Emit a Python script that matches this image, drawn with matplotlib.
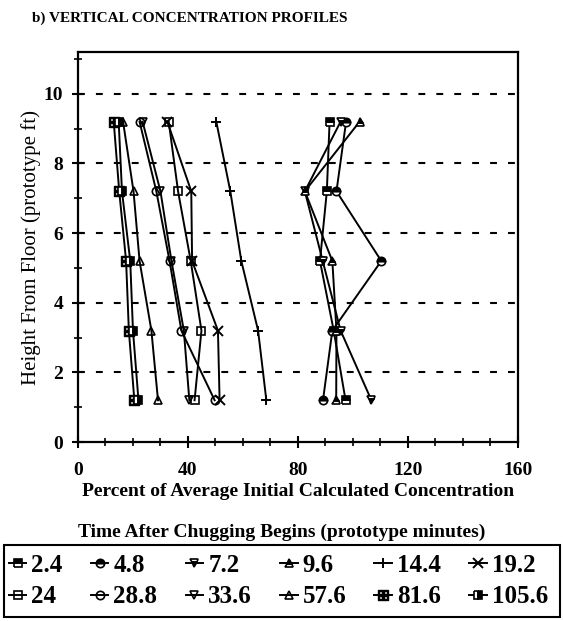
import numpy as np
import matplotlib
matplotlib.use("Agg")
from matplotlib import pyplot as plt
from matplotlib.patches import Rectangle
from matplotlib.ticker import MultipleLocator

plt.rcParams['font.family'] = ['Liberation Serif', 'DejaVu Serif']

# heights of the sampling points (prototype ft)
heights = [9.2, 7.2, 5.2, 3.2, 1.2]

# time after chugging begins (prototype minutes)
times = ['2.4', '4.8', '7.2', '9.6', '14.4', '19.2',
         '24', '28.8', '33.6', '57.6', '81.6', '105.6']

# percent of average initial calculated concentration, one list per time
c_2_4 = [91.5, 90.5, 88.0, 93.0, 97.3]
c_4_8 = [97.5, 94.0, 110.3, 92.5, 89.1]
c_7_2 = [95.5, 82.5, 89.0, 95.5, 106.7]
c_9_6 = [102.4, 82.5, 92.5, 94.0, 93.9]
c_14_4 = [50.3, 55.4, 59.4, 65.5, 68.5]
c_19_2 = [32.5, 41.2, 41.5, 50.9, 51.5]
c_24 = [33.0, 36.4, 41.0, 44.9, 42.4]
c_28_8 = [22.4, 28.5, 33.3, 37.6, 49.7]
c_33_6 = [23.5, 30.0, 34.0, 38.5, 40.5]
c_57_6 = [16.4, 20.2, 22.4, 26.7, 29.1]
c_81_6 = [13.0, 15.0, 17.5, 18.5, 20.5]
c_105_6 = [14.8, 16.0, 19.0, 20.0, 22.0]

series = [c_2_4, c_4_8, c_7_2, c_9_6, c_14_4, c_19_2,
          c_24, c_28_8, c_33_6, c_57_6, c_81_6, c_105_6]

markers = ['s', 'o', 'v', '^', '+', 'x', 's', 'o', 'v', '^', r'$\boxplus$', 's']
fills = ['bottom', 'bottom', 'top', 'bottom', 'full', 'full',
         'none', 'none', 'none', 'none', 'full', 'left']

fig = plt.figure(figsize=(5.63, 6.21), dpi=100)
ax = fig.add_axes([0.1385, 0.2882, 0.7815, 0.628])

handles = []
for lab, vals, m, fs in zip(times, series, markers, fills):
    if m == r'$\boxplus$':
        h, = ax.plot(vals, heights, color='black', lw=1.4, marker=m, ms=7,
                     mec='black', label=lab)
    elif m in ('+', 'x'):
        h, = ax.plot(vals, heights, color='black', lw=1.4, marker=m, ms=7,
                     mew=1.4, label=lab)
    else:
        h, = ax.plot(vals, heights, color='black', lw=1.4, marker=m, ms=6,
                     mfc='white', mec='black', mew=1.2, fillstyle=fs,
                     markerfacecoloralt='black' if fs != 'none' else 'white',
                     label=lab)
    handles.append(h)

for yy in [2, 4, 6, 8, 10]:
    ax.axhline(yy, color='black', lw=1.5, dashes=(3.3, 5.3), zorder=0)

ax.set_xlim(0, 160)
ax.set_ylim(0, 11.2)
ax.xaxis.set_major_locator(MultipleLocator(40))
ax.xaxis.set_minor_locator(MultipleLocator(10))
ax.yaxis.set_major_locator(MultipleLocator(2))
ax.yaxis.set_minor_locator(MultipleLocator(1))
ax.tick_params(which='major', direction='inout', length=9, width=1.5,
               labelsize=14)
ax.tick_params(which='minor', direction='inout', length=6, width=1.2)
ax.tick_params(axis='x', which='major', pad=10)
ax.tick_params(axis='y', which='major', pad=6)
for lbl in ax.get_xticklabels() + ax.get_yticklabels():
    lbl.set_fontweight('bold')
for sp in ax.spines.values():
    sp.set_linewidth(1.6)

ax.set_xlabel('Percent of Average Initial Calculated Concentration',
              fontsize=14, fontweight='bold', labelpad=3)
ax.set_ylabel('Height From Floor (prototype ft)', fontsize=15, labelpad=2)

fig.text(0.057, 0.970, 'b) VERTICAL CONCENTRATION PROFILES', fontsize=11,
         fontweight='bold', ha='left', va='center')
fig.text(0.5, 0.142, 'Time After Chugging Begins (prototype minutes)',
         fontsize=14, fontweight='bold', ha='center', va='center')

# box around the legend
fig.patches.append(Rectangle((0.007, 0.0064), 0.988, 0.116,
                             transform=fig.transFigure, fill=False,
                             edgecolor='black', lw=1.5))

# legend fills column by column, so interleave to read row by row
order = []
for j in range(6):
    order += [j, j + 6]
leg = fig.legend([handles[i] for i in order], [times[i] for i in order],
                 loc='center left', bbox_to_anchor=(0.007, 0.0064, 0.975, 0.116),
                 mode='expand', ncol=6, handlelength=0.7,
                 prop={'size': 18, 'weight': 'bold'},
                 handletextpad=0.2, columnspacing=0.4, borderpad=0.2,
                 labelspacing=0.35, frameon=False, borderaxespad=0)

fig.savefig('out.png', dpi=100)
